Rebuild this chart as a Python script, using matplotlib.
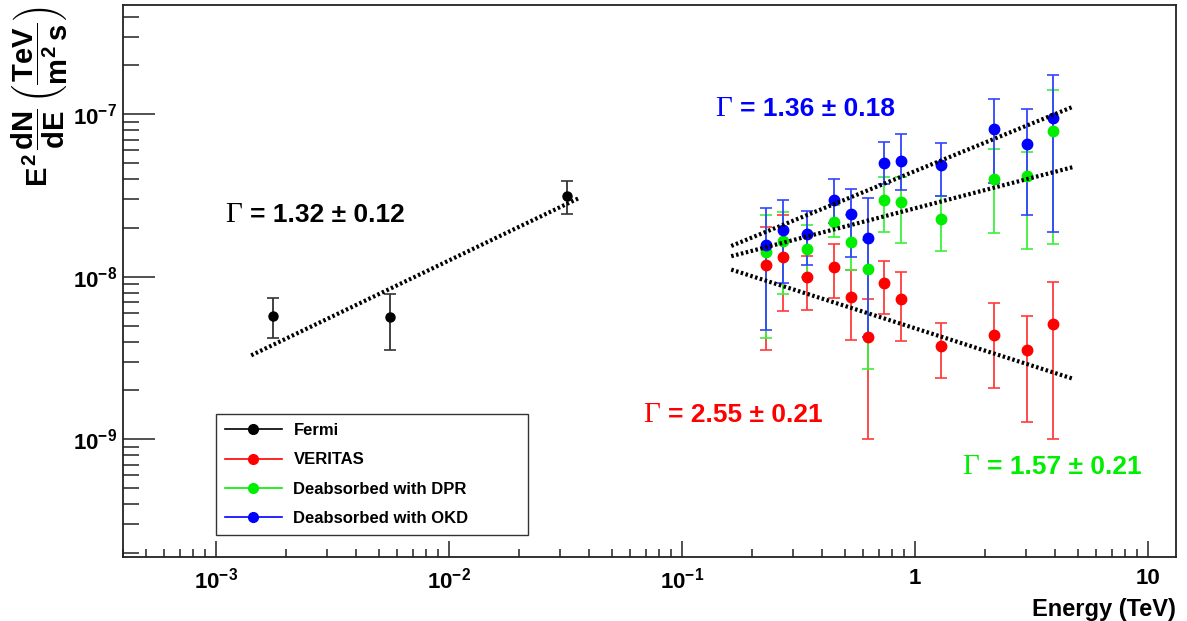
import matplotlib
matplotlib.use("Agg")
import matplotlib.pyplot as plt
from matplotlib.ticker import LogLocator, NullFormatter
from matplotlib.lines import Line2D
import numpy as np

plt.rcParams['font.family'] = ['Liberation Sans', 'DejaVu Sans']
plt.rcParams['font.weight'] = 'bold'
plt.rcParams['mathtext.fontset'] = 'custom'
plt.rcParams['mathtext.rm'] = 'Liberation Sans:bold'
plt.rcParams['mathtext.it'] = 'Liberation Sans:bold'
plt.rcParams['mathtext.bf'] = 'Liberation Sans:bold'

# Fermi-LAT points (TeV, TeV m^-2 s^-1)
fermi_e = [1.76e-3, 5.57e-3, 0.0323]
fermi_f = [5.77e-9, 5.68e-9, 3.16e-8]
fermi_hi = [7.43e-9, 7.80e-9, 3.89e-8]
fermi_lo = [4.22e-9, 3.53e-9, 2.43e-8]

# VERITAS energy bins
ver_e = [0.229, 0.272, 0.345, 0.450, 0.530, 0.627, 0.738, 0.871, 1.30, 2.18, 3.03, 3.92]

ver_f = [1.18e-8, 1.32e-8, 1.00e-8, 1.15e-8, 7.54e-9, 4.24e-9, 9.12e-9, 7.30e-9,
         3.75e-9, 4.38e-9, 3.53e-9, 5.12e-9]
ver_hi = [2.02e-8, 2.40e-8, 1.34e-8, 1.59e-8, 1.10e-8, 7.30e-9, 1.26e-8, 1.07e-8,
          5.22e-9, 6.87e-9, 5.76e-9, 9.25e-9]
ver_lo = [3.53e-9, 6.16e-9, 6.25e-9, 7.44e-9, 4.08e-9, 1.01e-9, 5.88e-9, 4.04e-9,
          2.37e-9, 2.08e-9, 1.28e-9, 1.01e-9]

dpr_f = [1.42e-8, 1.66e-8, 1.48e-8, 2.18e-8, 1.64e-8, 1.12e-8, 2.97e-8, 2.90e-8,
         2.27e-8, 4.00e-8, 4.17e-8, 7.93e-8]
dpr_hi = [2.40e-8, 2.52e-8, 2.08e-8, 2.76e-8, 2.40e-8, 1.68e-8, 4.10e-8, 4.13e-8,
          3.15e-8, 6.12e-8, 5.86e-8, 1.41e-7]
dpr_lo = [4.18e-9, 7.80e-9, 9.97e-9, 1.76e-8, 1.10e-8, 2.73e-9, 1.89e-8, 1.61e-8,
          1.44e-8, 1.87e-8, 1.49e-8, 1.59e-8]

okd_f = [1.57e-8, 1.94e-8, 1.83e-8, 2.97e-8, 2.42e-8, 1.74e-8, 5.04e-8, 5.18e-8,
         4.88e-8, 8.08e-8, 6.54e-8, 9.53e-8]
okd_hi = [2.66e-8, 2.97e-8, 2.53e-8, 4.00e-8, 3.48e-8, 3.04e-8, 6.78e-8, 7.53e-8,
          6.69e-8, 1.24e-7, 1.08e-7, 1.74e-7]
okd_lo = [4.70e-9, 9.12e-9, 1.18e-8, 2.14e-8, 1.32e-8, 4.24e-9, 3.72e-8, 3.42e-8,
          3.14e-8, 3.76e-8, 2.41e-8, 1.89e-8]

# power-law fits: E^2 dN/dE = norm * (E/e0)^slope over [emin, emax]
fit_names = ['fermi', 'veritas', 'dpr', 'okd']
fit_e0 = [0.01, 1.0, 1.0, 1.0]
fit_norm = [1.26e-8, 4.83e-9, 2.64e-8, 4.47e-8]
fit_slope = [0.688, -0.458, 0.374, 0.584]
fit_emin = [1.42e-3, 0.163, 0.163, 0.163]
fit_emax = [0.0359, 4.75, 4.75, 4.75]

labels = ['Fermi', 'VERITAS', 'Deabsorbed with DPR', 'Deabsorbed with OKD']
gamma_text = ['= 1.32 ± 0.12', '= 2.55 ± 0.21', '= 1.57 ± 0.21', '= 1.36 ± 0.18']
gamma_pos = [(0.097, 0.620), (0.494, 0.257), (0.797, 0.163), (0.562, 0.811)]
series_colors = ['black', '#ff0000', '#00ee00', '#0000ff']
bar_colors = ['#333333', '#ff3b3b', '#3cf03c', '#3344ff']

fig = plt.figure(figsize=(11.87, 6.21), dpi=100)
ax = fig.add_axes([0.1036, 0.1031, 0.8871, 0.8889])

def draw(e, f, hi, lo, c, bc, ms=7.5):
    f = np.array(f)
    yerr = [f - np.array(lo), np.array(hi) - f]
    ax.errorbar(e, f, yerr=yerr, fmt='o', color=c, ecolor=bc, ms=ms, mec=c,
                elinewidth=1.3, capsize=4, capthick=1.2, zorder=3)

draw(fermi_e, fermi_f, fermi_hi, fermi_lo, series_colors[0], bar_colors[0], ms=6.5)
draw(ver_e, ver_f, ver_hi, ver_lo, series_colors[1], bar_colors[1])
draw(ver_e, dpr_f, dpr_hi, dpr_lo, series_colors[2], bar_colors[2])
draw(ver_e, okd_f, okd_hi, okd_lo, series_colors[3], bar_colors[3])

for i in range(len(fit_names)):
    xs = np.logspace(np.log10(fit_emin[i]), np.log10(fit_emax[i]), 50)
    ys = fit_norm[i] * (xs / fit_e0[i]) ** fit_slope[i]
    ax.plot(xs, ys, color='black', lw=3, ls=(0, (0.6, 0.6)), zorder=4)

for i in range(len(gamma_text)):
    x, y = gamma_pos[i]
    ax.text(x, y, 'Γ', transform=ax.transAxes, family='Liberation Serif',
            fontweight='normal', fontsize=21, color=series_colors[i], va='center')
    ax.annotate(gamma_text[i], xy=(x, y), xycoords='axes fraction', xytext=(18, 0),
                textcoords='offset points', fontsize=19, color=series_colors[i],
                va='center', ha='left')

ax.set_xscale('log')
ax.set_yscale('log')
ax.set_xlim(4.0e-4, 13.2)
ax.set_ylim(1.89e-10, 4.71e-7)

ax.xaxis.set_minor_locator(LogLocator(base=10, subs=np.arange(2, 10), numticks=20))
ax.yaxis.set_minor_locator(LogLocator(base=10, subs=np.arange(2, 10), numticks=20))
ax.xaxis.set_minor_formatter(NullFormatter())
ax.yaxis.set_minor_formatter(NullFormatter())
ax.set_xticks([1e-3, 1e-2, 1e-1, 1, 10])
ax.set_xticklabels([r'$10^{-3}$', r'$10^{-2}$', r'$10^{-1}$', '1', '10'])
ax.set_yticks([1e-9, 1e-8, 1e-7])
ax.set_yticklabels([r'$10^{-9}$', r'$10^{-8}$', r'$10^{-7}$'])

ax.tick_params(axis='x', which='major', direction='in', length=11.5, width=1.1,
               labelsize=16, pad=8, color='#222222')
ax.tick_params(axis='x', which='minor', direction='in', length=6, width=1.1, color='#222222')
ax.tick_params(axis='y', which='major', direction='in', length=23, width=1.1,
               labelsize=16, pad=4, color='#222222')
ax.tick_params(axis='y', which='minor', direction='in', length=11.5, width=1.1, color='#222222')
for s in ax.spines.values():
    s.set_linewidth(1.3)
    s.set_color('#222222')

ax.set_xlabel('Energy (TeV)', fontsize=17, fontweight='bold')
ax.xaxis.set_label_coords(1.0, -0.075)
ax.xaxis.label.set_ha('right')

fig.text(40 / 1187, 1 - 7 / 621,
         r'$E^{2}\,\dfrac{dN}{dE}\,\left(\dfrac{TeV}{m^{2}\,s}\right)$',
         rotation=90, va='top', ha='center', fontsize=21)

handles = [Line2D([], [], color=series_colors[i], marker='o', ms=7, lw=1.2)
           for i in range(len(labels))]
leg = ax.legend(handles, labels, loc='lower left', mode='expand',
                bbox_to_anchor=(0.0883, 0.0399, 0.2963, 0.2156), fontsize=12,
                frameon=True, fancybox=False, edgecolor='black', borderpad=0.55,
                labelspacing=0.85, handlelength=3.4, handletextpad=0.7,
                borderaxespad=0)
leg.get_frame().set_linewidth(1.0)
for t in leg.get_texts():
    t.set_fontweight('bold')

fig.savefig('out.png', dpi=100)
